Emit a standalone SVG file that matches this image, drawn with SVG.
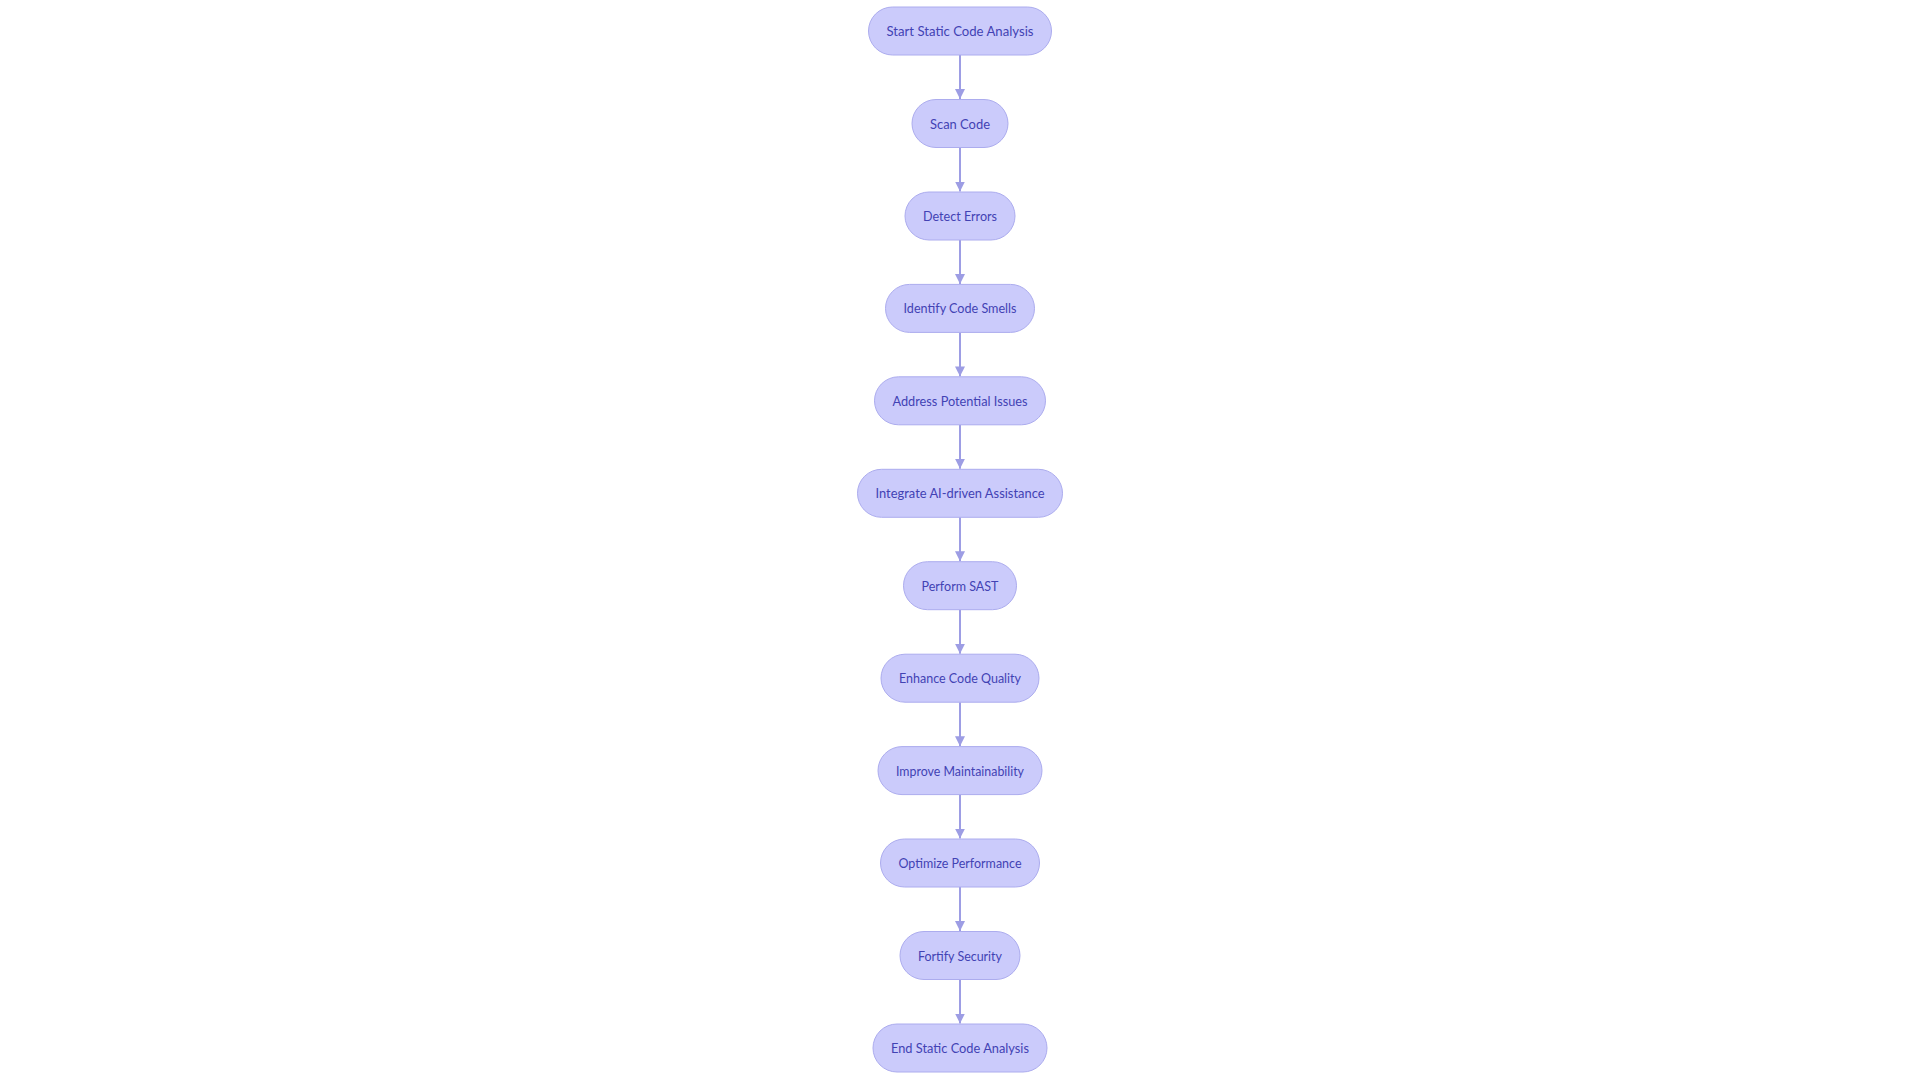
<svg xmlns="http://www.w3.org/2000/svg" width="1920" height="1080" viewBox="0 0 1920 1080">
<style>
.node rect{fill:#cbcbfb;stroke:#acacee;stroke-width:1}
.node text{font-family:Lato,"Noto Sans","Liberation Sans",sans-serif;font-size:14px;font-weight:400;fill:#4242b4;text-anchor:middle}
.edge{stroke:#9d9de4;stroke-width:2;fill:none}
</style>
<defs>
<marker id="arr" viewBox="0 0 10 10" refX="10" refY="5" markerWidth="10" markerHeight="10" markerUnits="userSpaceOnUse" orient="auto">
<path d="M0,0 L10,5 L0,10 z" fill="#9d9de4"/>
</marker>
</defs>
<rect width="1920" height="1080" fill="#ffffff"/>
<g id="connectors">
<path class="edge" d="M960,55 V99" marker-end="url(#arr)"/>
<path class="edge" d="M960,147.5 V191.5" marker-end="url(#arr)"/>
<path class="edge" d="M960,240 V284" marker-end="url(#arr)"/>
<path class="edge" d="M960,332.4 V376.4" marker-end="url(#arr)"/>
<path class="edge" d="M960,424.8 V468.8" marker-end="url(#arr)"/>
<path class="edge" d="M960,517.3 V561.3" marker-end="url(#arr)"/>
<path class="edge" d="M960,609.7 V653.7" marker-end="url(#arr)"/>
<path class="edge" d="M960,702.2 V746.2" marker-end="url(#arr)"/>
<path class="edge" d="M960,794.6 V838.6" marker-end="url(#arr)"/>
<path class="edge" d="M960,887 V931" marker-end="url(#arr)"/>
<path class="edge" d="M960,979.5 V1023.5" marker-end="url(#arr)"/>
</g>
<g id="n0" class="node"><rect x="868.5" y="7" width="183" height="48" rx="24"/><text x="960" y="36" textLength="147" lengthAdjust="spacingAndGlyphs">Start Static Code Analysis</text></g>
<g id="n1" class="node"><rect x="912" y="99.5" width="96" height="48" rx="24"/><text x="960" y="128.5" textLength="60" lengthAdjust="spacingAndGlyphs">Scan Code</text></g>
<g id="n2" class="node"><rect x="905" y="192" width="110" height="48" rx="24"/><text x="960" y="221" textLength="74" lengthAdjust="spacingAndGlyphs">Detect Errors</text></g>
<g id="n3" class="node"><rect x="885.5" y="284.4" width="149" height="48" rx="24"/><text x="960" y="313.4" textLength="113" lengthAdjust="spacingAndGlyphs">Identify Code Smells</text></g>
<g id="n4" class="node"><rect x="874.5" y="376.8" width="171" height="48" rx="24"/><text x="960" y="405.8" textLength="135" lengthAdjust="spacingAndGlyphs">Address Potential Issues</text></g>
<g id="n5" class="node"><rect x="857.5" y="469.3" width="205" height="48" rx="24"/><text x="960" y="498.3" textLength="169" lengthAdjust="spacingAndGlyphs">Integrate AI-driven Assistance</text></g>
<g id="n6" class="node"><rect x="903.5" y="561.7" width="113" height="48" rx="24"/><text x="960" y="590.7" textLength="77" lengthAdjust="spacingAndGlyphs">Perform SAST</text></g>
<g id="n7" class="node"><rect x="881" y="654.2" width="158" height="48" rx="24"/><text x="960" y="683.2" textLength="122" lengthAdjust="spacingAndGlyphs">Enhance Code Quality</text></g>
<g id="n8" class="node"><rect x="878" y="746.6" width="164" height="48" rx="24"/><text x="960" y="775.6" textLength="128" lengthAdjust="spacingAndGlyphs">Improve Maintainability</text></g>
<g id="n9" class="node"><rect x="880.5" y="839" width="159" height="48" rx="24"/><text x="960" y="868" textLength="123" lengthAdjust="spacingAndGlyphs">Optimize Performance</text></g>
<g id="n10" class="node"><rect x="900" y="931.5" width="120" height="48" rx="24"/><text x="960" y="960.5" textLength="84" lengthAdjust="spacingAndGlyphs">Fortify Security</text></g>
<g id="n11" class="node"><rect x="873" y="1024" width="174" height="48" rx="24"/><text x="960" y="1053" textLength="138" lengthAdjust="spacingAndGlyphs">End Static Code Analysis</text></g>
</svg>
